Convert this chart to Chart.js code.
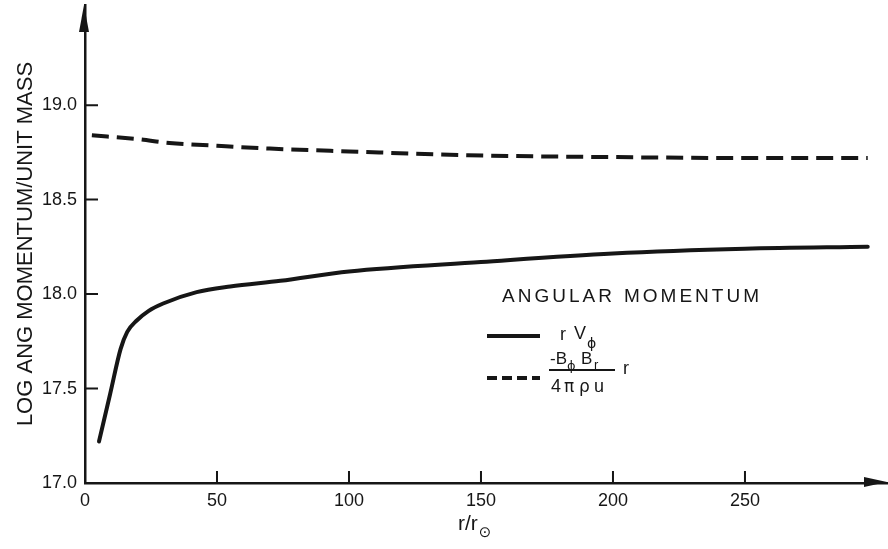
<!DOCTYPE html>
<html>
<head>
<meta charset="utf-8">
<title>Angular momentum per unit mass</title>
<script src="https://cdn.jsdelivr.net/npm/chart.js@4.4.1/dist/chart.umd.min.js"></script>
<style>
  html, body { margin: 0; padding: 0; background: #ffffff; }
  #wrap { width: 888px; height: 549px; position: relative; }
</style>
</head>
<body>
<div id="wrap"><canvas id="chart"></canvas></div>
<script>
// Radial distance r/r_sun and log angular momentum per unit mass
const rotationR   = [5.3, 9.5, 13.5, 16, 19.6, 24, 29.6, 42.3, 55, 74, 100, 150, 200, 250, 296.5];
const rotationLog = [17.22, 17.47, 17.71, 17.80, 17.86, 17.91, 17.95, 18.01, 18.04, 18.07, 18.12, 18.17, 18.215, 18.24, 18.25];

const magneticR   = [2.6, 20, 32, 50, 70, 100, 145, 200, 250, 296.5];
const magneticLog = [18.84, 18.82, 18.80, 18.785, 18.77, 18.755, 18.735, 18.725, 18.72, 18.72];

const xTickValues = [0, 50, 100, 150, 200, 250];
const yTickValues = [17.0, 17.5, 18.0, 18.5, 19.0];

const INK = '#161616';
const FONT = "'Liberation Sans', Arial, sans-serif";

Chart.defaults.font.family = FONT;
Chart.defaults.color = INK;

function toPoints(xs, ys) {
  return xs.map((x, i) => ({ x: x, y: ys[i] }));
}

// Inward tick marks and arrowheads on both axes
const axisDecor = {
  id: 'axisDecor',
  afterDraw(chart) {
    const { ctx, chartArea, scales } = chart;
    const x0 = chartArea.left, y0 = chartArea.bottom;
    ctx.save();
    ctx.strokeStyle = INK;
    ctx.fillStyle = INK;
    ctx.lineWidth = 2;
    ctx.beginPath();
    yTickValues.forEach(v => {
      if (v === yTickValues[0]) return;
      const py = scales.y.getPixelForValue(v);
      ctx.moveTo(x0 - 1, py);
      ctx.lineTo(x0 + 13, py);
    });
    xTickValues.forEach(v => {
      if (v === xTickValues[0]) return;
      const px = scales.x.getPixelForValue(v);
      ctx.moveTo(px, y0 + 1);
      ctx.lineTo(px, y0 - 12);
    });
    ctx.stroke();

    // arrow on the vertical axis
    ctx.beginPath();
    ctx.moveTo(x0 - 1, chartArea.top);
    ctx.lineTo(x0 - 6, chartArea.top + 27);
    ctx.lineTo(x0 + 4, chartArea.top + 27);
    ctx.closePath();
    ctx.fill();
    // arrow on the horizontal axis
    ctx.beginPath();
    ctx.moveTo(chartArea.right, y0 - 1);
    ctx.lineTo(chartArea.right - 23, y0 - 6);
    ctx.lineTo(chartArea.right - 23, y0 + 4);
    ctx.closePath();
    ctx.fill();
    ctx.restore();
  }
};

// Horizontal axis title with a subscripted solar symbol
const xTitle = {
  id: 'xTitle',
  afterDraw(chart) {
    const { ctx } = chart;
    ctx.save();
    ctx.fillStyle = INK;
    ctx.textBaseline = 'alphabetic';
    ctx.textAlign = 'left';
    ctx.font = '21px ' + FONT;
    const main = 'r/r';
    const w = ctx.measureText(main).width;
    const x = 458;
    ctx.fillText(main, x, 530);
    ctx.font = '15px DejaVu Sans';
    ctx.fillText('\u2299', x + w + 1, 537);
    ctx.restore();
  }
};

// Key with the fraction label for the magnetic term
const keyBox = {
  id: 'keyBox',
  afterDraw(chart) {
    const { ctx } = chart;
    ctx.save();
    ctx.fillStyle = INK;
    ctx.strokeStyle = INK;
    ctx.textAlign = 'left';
    ctx.textBaseline = 'alphabetic';

    ctx.font = '19px ' + FONT;
    ctx.letterSpacing = '3px';
    ctx.fillText('ANGULAR', 502, 302);
    ctx.fillText('MOMENTUM', 624, 302);
    ctx.letterSpacing = '0px';

    // solid sample
    ctx.lineWidth = 4;
    ctx.setLineDash([]);
    ctx.beginPath();
    ctx.moveTo(487, 336);
    ctx.lineTo(540, 336);
    ctx.stroke();
    ctx.font = '18px ' + FONT;
    ctx.fillText('r', 560, 340);
    ctx.fillText('V', 574, 339);
    ctx.font = '14px DejaVu Sans';
    ctx.fillText('\u03d5', 587, 348);

    // dashed sample
    ctx.setLineDash([10, 5]);
    ctx.beginPath();
    ctx.moveTo(487, 378);
    ctx.lineTo(540, 378);
    ctx.stroke();
    ctx.setLineDash([]);

    // numerator
    ctx.font = '17px ' + FONT;
    ctx.fillText('-B', 550, 364);
    ctx.font = '13px DejaVu Sans';
    ctx.fillText('\u03d5', 567, 370);
    ctx.font = '17px ' + FONT;
    ctx.fillText('B', 581, 364);
    ctx.font = '13px ' + FONT;
    ctx.fillText('r', 594, 369);
    // fraction bar
    ctx.lineWidth = 2;
    ctx.beginPath();
    ctx.moveTo(549, 370);
    ctx.lineTo(615, 370);
    ctx.stroke();
    // denominator
    ctx.font = '18px ' + FONT;
    ctx.fillText('4', 551, 392);
    ctx.font = '17px DejaVu Sans';
    ctx.fillText('\u03c0', 564, 392);
    ctx.fillText('\u03c1', 579, 392);
    ctx.font = '18px ' + FONT;
    ctx.fillText('u', 594, 392);
    // trailing r
    ctx.font = '18px ' + FONT;
    ctx.fillText('r', 623, 374);
    ctx.restore();
  }
};

new Chart(document.getElementById('chart'), {
  type: 'line',
  data: {
    datasets: [
      {
        label: 'r V\u03d5',
        data: toPoints(rotationR, rotationLog),
        borderColor: INK,
        borderWidth: 4,
        pointRadius: 0,
        cubicInterpolationMode: 'monotone',
        borderCapStyle: 'round',
        fill: false
      },
      {
        label: '-B\u03d5 Br / 4\u03c0\u03c1u r',
        data: toPoints(magneticR, magneticLog),
        borderColor: INK,
        borderWidth: 4,
        borderDash: [17, 8],
        pointRadius: 0,
        cubicInterpolationMode: 'monotone',
        borderCapStyle: 'butt',
        fill: false
      }
    ]
  },
  options: {
    responsive: true,
    maintainAspectRatio: false,
    animation: false,
    layout: { padding: { top: 5, right: 1, left: 0, bottom: 0 } },
    plugins: {
      legend: { display: false },
      tooltip: { enabled: false }
    },
    scales: {
      x: {
        type: 'linear',
        min: 0,
        max: 303.8,
        grid: { display: false, drawTicks: false },
        border: { display: true, color: INK, width: 2.5 },
        afterBuildTicks: s => { s.ticks = xTickValues.map(v => ({ value: v })); },
        afterFit: s => { s.height = 66; s.paddingLeft = 0; s.paddingRight = 0; },
        ticks: {
          padding: 7,
          maxRotation: 0,
          font: { size: 18 },
          color: INK,
          callback: v => String(v)
        }
      },
      y: {
        type: 'linear',
        min: 17.0,
        max: 19.53,
        grid: { display: false, drawTicks: false },
        border: { display: true, color: INK, width: 2.5 },
        afterBuildTicks: s => { s.ticks = yTickValues.map(v => ({ value: v })); },
        afterFit: s => { s.width = 85; s.paddingTop = 0; s.paddingBottom = 0; },
        ticks: {
          padding: 8,
          font: { size: 18 },
          color: INK,
          callback: v => Number(v).toFixed(1)
        },
        title: {
          display: true,
          text: 'LOG ANG MOMENTUM/UNIT MASS',
          font: { size: 22 },
          color: INK,
          padding: { top: 13, bottom: 0 }
        }
      }
    }
  },
  plugins: [axisDecor, xTitle, keyBox]
});
</script>
</body>
</html>
